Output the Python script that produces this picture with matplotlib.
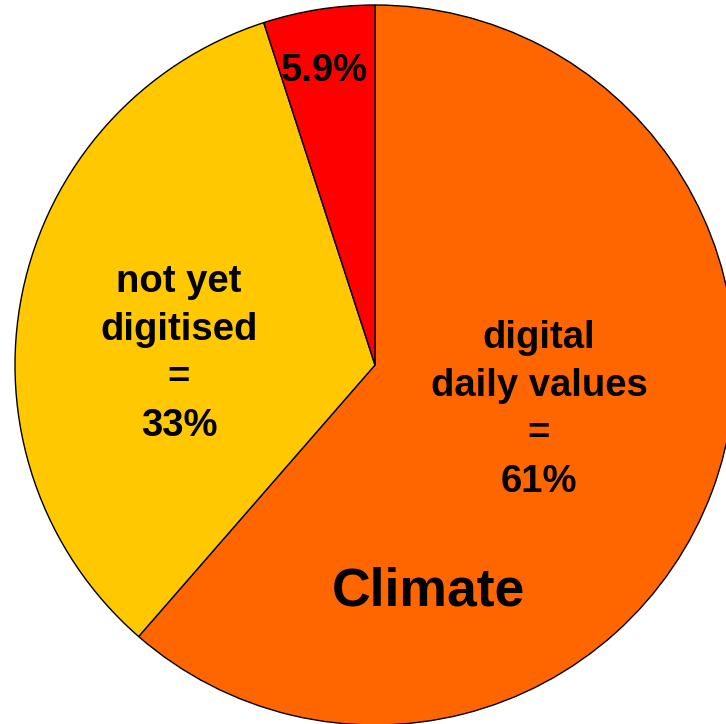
import matplotlib
matplotlib.use('Agg')
import matplotlib.pyplot as plt

# slices, clockwise from 12 o'clock (sizes as drawn; labels as printed)
shares = [61.4, 33.6, 5.0]
labels = ["digital\ndaily values\n=\n61%", "not yet\ndigitised\n=\n33%", "5.9%"]
colours = ["#FF6600", "#FFC800", "#FF0000"]
title = "Climate"

plt.rcParams['font.family'] = ['Liberation Sans', 'DejaVu Sans']

fig = plt.figure(figsize=(7.26, 7.24), dpi=100)
ax = fig.add_axes([0, 0, 1, 1])

R = 360.0  # pie radius in pixels
cx, cy = 375.0, 365.0


def px(x, y):
    # pixel position -> data coords
    return (x - cx) / R, (cy - y) / R


ax.pie(shares, colors=colours, startangle=90, counterclock=False,
       wedgeprops=dict(edgecolor='black', linewidth=1.0))

ax.set_xlim(-cx / R, (726 - cx) / R)
ax.set_ylim(-(724 - cy) / R, cy / R)
ax.set_aspect('auto')
ax.axis('off')

# label positions (pixels)
spots = [(539, 410), (179, 354), (324, 71)]
for lab, (x, y) in zip(labels, spots):
    ax.text(*px(x, y), lab, ha='center', va='center', fontsize=27.5,
            fontweight='bold', linespacing=1.44)

ax.text(*px(428, 606), title, ha='center', va='baseline', fontsize=38.5,
        fontweight='bold')

fig.savefig('out.png', dpi=100)
